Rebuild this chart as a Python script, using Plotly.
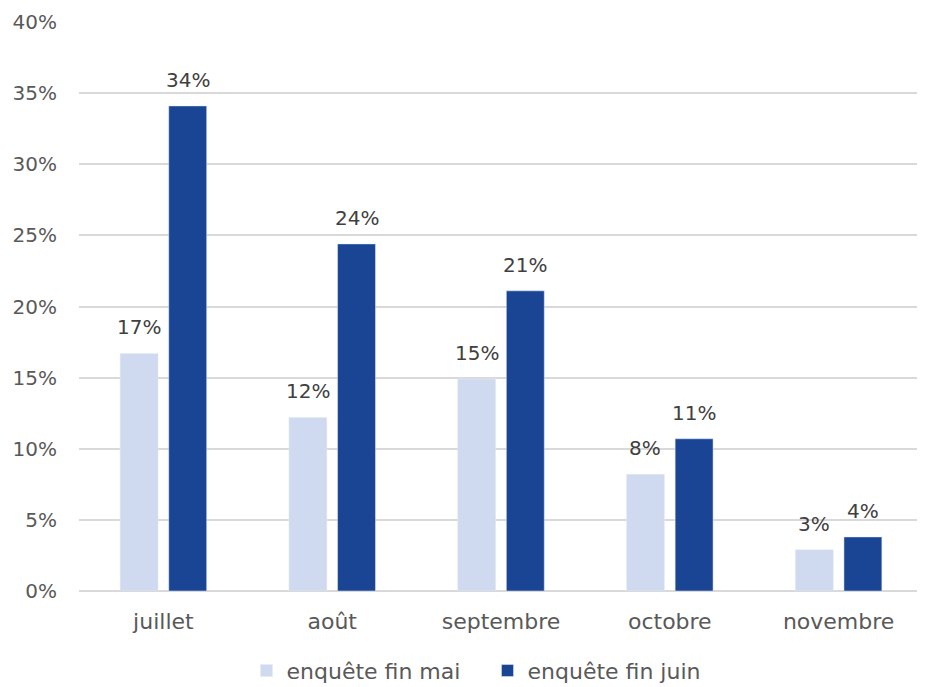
import plotly.graph_objects as go

categories = ["juillet", "août", "septembre", "octobre", "novembre"]
series_names = ["enquête fin mai", "enquête fin juin"]
fin_mai = [0.167, 0.122, 0.149, 0.082, 0.029]
fin_juin = [0.341, 0.244, 0.211, 0.107, 0.038]
colors = ["#CFD9F0", "#1A4494"]
label_shift = [-24.4, 24.4]

FONT = "DejaVu Sans"
NUM = 20
WORD = 22
fig = go.Figure()
annotations = []
for name, vals, col, dx in zip(series_names, [fin_mai, fin_juin], colors, label_shift):
    fig.add_trace(go.Bar(x=categories, y=vals, name=name, marker_color=col))
    for c, v in zip(categories, vals):
        annotations.append(dict(
            x=c, y=v, xref="x", yref="y", text=f"{round(v*100):.0f}%",
            showarrow=False, xshift=dx, yshift=12, yanchor="bottom",
            font=dict(family=FONT, size=NUM, color="#404040")))

# the page body has an 8px margin; the figure is offset by it
fig.update_layout(
    width=917, height=679,
    margin=dict(l=71, r=2, t=14, b=96),
    paper_bgcolor="white", plot_bgcolor="white",
    barmode="group", bargap=0.424, bargroupgap=0.22,
    font=dict(family=FONT, size=NUM, color="#595959"),
    annotations=annotations,
    showlegend=True,
    legend=dict(orientation="h", x=0.484, xanchor="center",
                yref="container", y=0.024, yanchor="middle",
                font=dict(family=FONT, size=WORD, color="#595959"),
                itemwidth=30, entrywidth=196, traceorder="normal"),
    xaxis=dict(showgrid=False, showline=False, ticks="", ticklabelstandoff=15,
               automargin=False,
               tickfont=dict(family=FONT, size=WORD, color="#595959")),
    yaxis=dict(range=[0, 0.4], dtick=0.05, tickformat=".0%",
               showgrid=True, gridcolor="#D9D9D9", gridwidth=1.5,
               zeroline=True, zerolinecolor="#D9D9D9", zerolinewidth=1.5,
               ticks="", ticklabelstandoff=21, automargin=False,
               tickfont=dict(family=FONT, size=NUM, color="#595959")),
)
fig.write_html("out.html")
